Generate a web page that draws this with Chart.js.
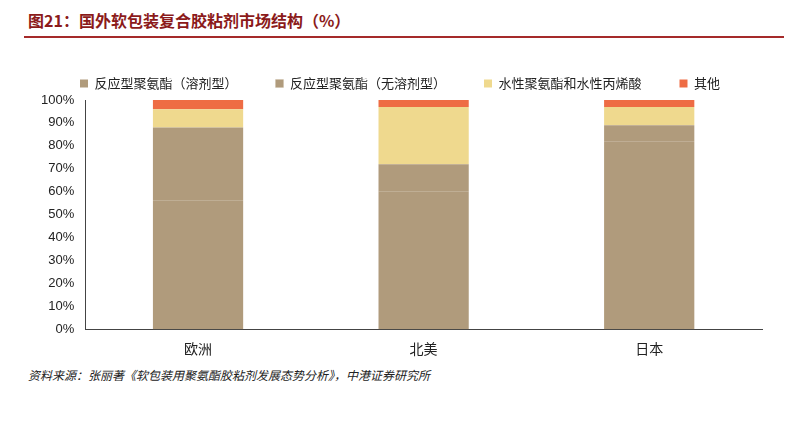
<!DOCTYPE html>
<html><head><meta charset="utf-8">
<script src="https://cdn.jsdelivr.net/npm/chart.js@4/dist/chart.umd.min.js"></script>
<style>
body{margin:0;width:800px;height:425px;background:#fff;font-family:"Noto Sans CJK SC",sans-serif;position:relative;overflow:hidden}
#t{position:absolute;left:28px;top:8px;font-size:16px;font-weight:bold;color:#8b1a1a}
#line{position:absolute;left:24px;top:36px;width:760px;height:2px;background:#a52a2a}
#c{position:absolute;left:20px;top:39px;width:770px;height:321px}
#s{position:absolute;left:28px;top:366px;font-size:12px;font-style:italic;color:#222}
</style></head><body>
<div id="t">图21：国外软包装复合胶粘剂市场结构（%）</div>
<div id="line"></div>
<div id="c"><canvas id="cv"></canvas></div>
<div id="s">资料来源：张丽著《软包装用聚氨酯胶粘剂发展态势分析》，中港证券研究所</div>
<script>
const categories=["欧洲","北美","日本"];
const solventPU=[56,60,82];
const solventFreePU=[32,12,7];
const waterBased=[8,25,8];
const others=[4,3,3];
const names=["反应型聚氨酯（溶剂型）","反应型聚氨酯（无溶剂型）","水性聚氨酯和水性丙烯酸","其他"];
const colors=["#b09b7c","#b09b7c","#efd98e","#ee6c44"];
const series=[solventPU,solventFreePU,waterBased,others];
new Chart(document.getElementById('cv'),{type:'bar',
data:{labels:categories,datasets:series.map((d,i)=>({label:names[i],data:d,backgroundColor:colors[i],borderColor:i==1?'#c4b294':colors[i],borderWidth:i==1?{top:0,bottom:1,left:0,right:0}:0,barPercentage:0.4,categoryPercentage:1}))},
options:{responsive:true,maintainAspectRatio:false,animation:false,
layout:{padding:{left:18,right:28}},
plugins:{legend:{labels:{boxWidth:8,boxHeight:8,font:{size:13,family:"Noto Sans CJK SC"},color:'#222',padding:38}},tooltip:{enabled:false}},
scales:{x:{stacked:true,grid:{display:false},border:{color:'#444'},ticks:{color:'#222',font:{size:14,family:"Noto Sans CJK SC"}}},
y:{stacked:true,min:0,max:100,ticks:{stepSize:10,autoSkip:false,callback:v=>v+'%',color:'#222',font:{size:13}},grid:{display:false,drawTicks:true},border:{color:'#444'}}}}});
</script></body></html>
